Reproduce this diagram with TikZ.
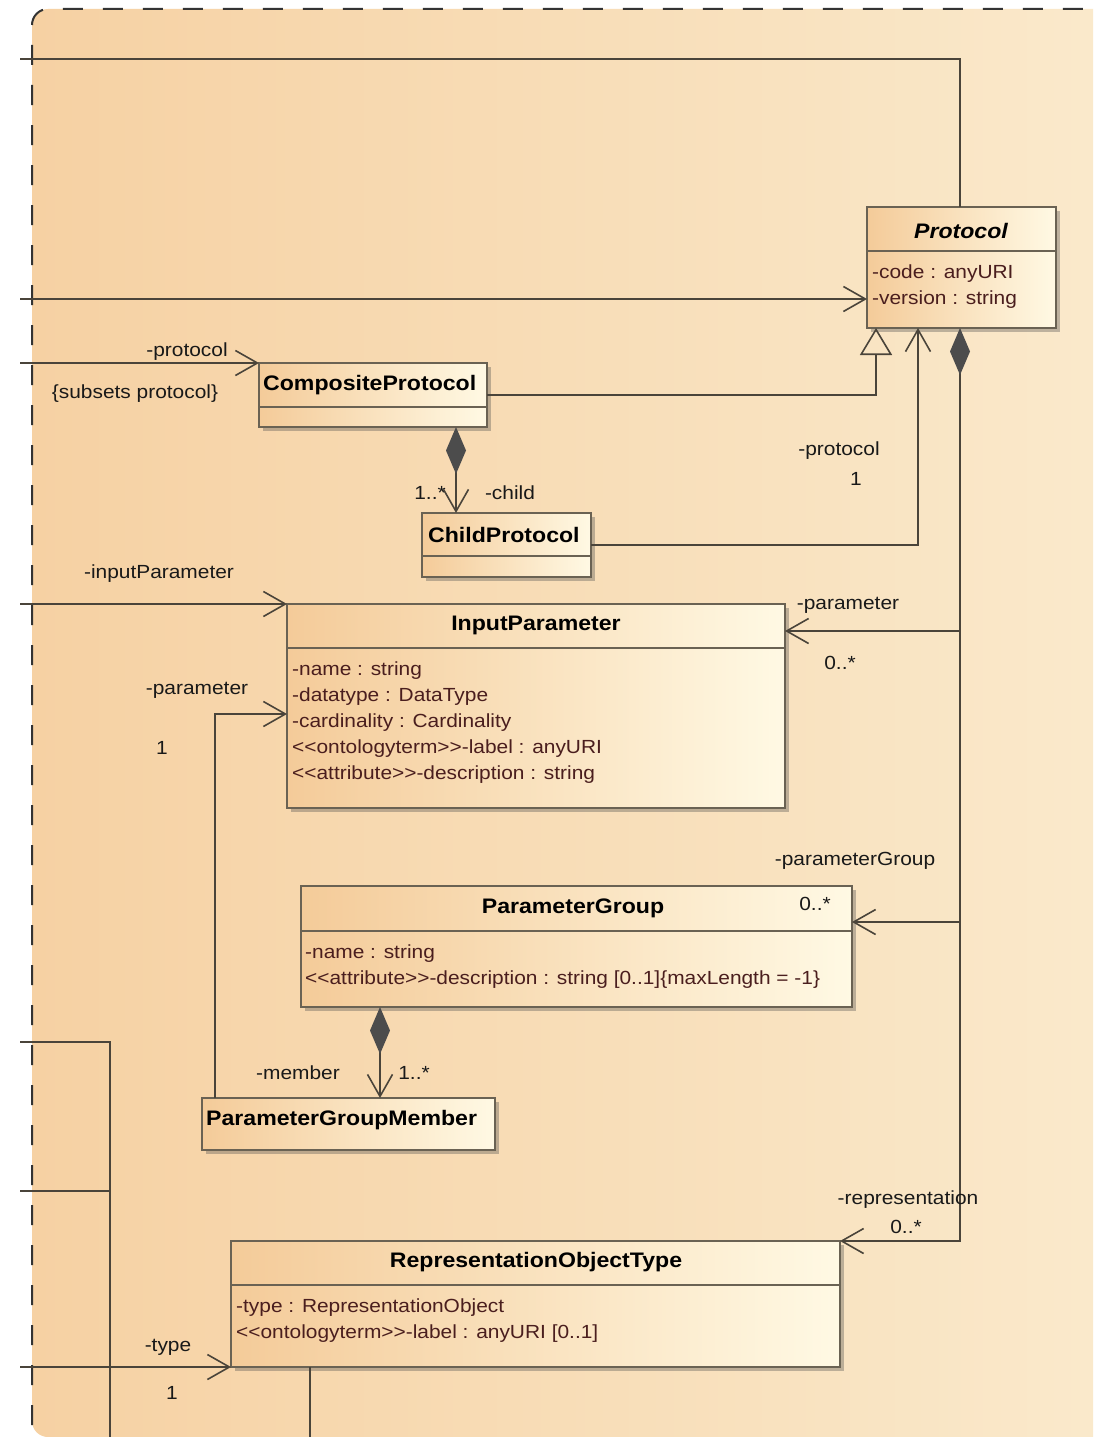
\documentclass[tikz,border=0pt]{standalone}
\usepackage{fontspec}
\newfontfamily\umlfont[FakeStretch=1.1]{Liberation Sans}
\usetikzlibrary{arrows.meta,shadows,calc}
\definecolor{bgL}{HTML}{F6D1A3}
\definecolor{bgR}{HTML}{FAE9CB}
\definecolor{clsL}{HTML}{F4CB99}
\definecolor{clsR}{HTML}{FFF9E4}
\definecolor{edgec}{HTML}{6A6253}
\definecolor{wirec}{HTML}{4A443A}
\definecolor{attrc}{HTML}{4A1E1E}
\definecolor{diac}{HTML}{4C4C4C}
\newcommand\umlopen{<\kern0pt<}
\newcommand\umlclose{>\kern0pt>}
\begin{document}
\begin{tikzpicture}[x=1pt,y=-1pt,
  cls/.style={draw=edgec, line width=1.8pt, left color=clsL, right color=clsR,
    anchor=north west, inner sep=0pt, outer sep=0pt,
    drop shadow={shadow xshift=4pt, shadow yshift=-4pt, opacity=0.35, fill=black!70}},
  div/.style={draw=edgec, line width=1.6pt},
  ttl/.style={font=\umlfont\fontsize{21}{24}\selectfont\bfseries, inner sep=0pt, text=black, yshift=-2.5pt},
  att/.style={font=\umlfont\fontsize{19}{22}\selectfont, inner sep=0pt, anchor=west, text=attrc, yshift=-2.5pt},
  lbl/.style={font=\umlfont\fontsize{19}{22}\selectfont, inner sep=0pt, text=black!90, yshift=-2.5pt},
  wirestyle/.style={draw=wirec, line width=1.6pt},
  barb/.tip={Straight Barb[length=22pt,width=25pt]},
  dmd/.tip={Diamond[length=47pt,width=20pt,color=diac,fill=diac]},
  tri/.tip={Triangle[open,length=27pt,width=32pt]}
]
\useasboundingbox (0,0) rectangle (1097,1437);
\fill[white] (0,0) rectangle (1097,1437);
\shade[left color=bgL, right color=bgR]
  (1093,1437) -- (1093,9) [rounded corners=16pt] -- (32,9) -- (32,1437) [sharp corners] -- cycle;
\draw[draw=black!80, line width=2pt, dash pattern=on 20pt off 20pt, rounded corners=16pt]
  (32,1425) -- (32,9) -- (1097,9);

% ---------- classes ----------
\node[cls, minimum width=189pt, minimum height=121pt] (protocol) at (867,207) {};
\draw[div] ($(protocol.north west)+(0,44)$) -- ($(protocol.north east)+(0,44)$);
\node[ttl] (protocolT) at (961,228) {\itshape Protocol};
\node[att] (protocolA1) at (872,271) {-code : anyURI};
\node[att] (protocolA2) at (872,297) {-version : string};

\node[cls, minimum width=228pt, minimum height=64pt] (composite) at (259,363) {};
\draw[div] ($(composite.north west)+(0,44)$) -- ($(composite.north east)+(0,44)$);
\node[ttl, anchor=west] (compositeT) at (263,383) {CompositeProtocol};

\node[cls, minimum width=169pt, minimum height=64pt] (child) at (422,513) {};
\draw[div] ($(child.north west)+(0,43)$) -- ($(child.north east)+(0,43)$);
\node[ttl, anchor=west] (childT) at (428,532) {ChildProtocol};

\node[cls, minimum width=498pt, minimum height=204pt] (input) at (287,604) {};
\draw[div] ($(input.north west)+(0,44)$) -- ($(input.north east)+(0,44)$);
\node[ttl] (inputT) at (536,623) {InputParameter};
\node[att] (inputA1) at (292,668) {-name : string};
\node[att] (inputA2) at (292,694) {-datatype : DataType};
\node[att] (inputA3) at (292,720) {-cardinality : Cardinality};
\node[att] (inputA4) at (292,746) {\umlopen ontologyterm\umlclose-label : anyURI};
\node[att] (inputA5) at (292,772) {\umlopen attribute\umlclose-description : string};

\node[cls, minimum width=551pt, minimum height=121pt] (pgroup) at (301,886) {};
\draw[div] ($(pgroup.north west)+(0,45)$) -- ($(pgroup.north east)+(0,45)$);
\node[ttl] (pgroupT) at (573,906) {ParameterGroup};
\node[att] (pgroupA1) at (305,951) {-name : string};
\node[att] (pgroupA2) at (305,977) {\umlopen attribute\umlclose-description : string [0..1]\{maxLength = -1\}};

\node[cls, minimum width=293pt, minimum height=52pt] (pgm) at (202,1098) {};
\node[ttl, anchor=west] (pgmT) at (206,1118) {ParameterGroupMember};

\node[cls, minimum width=609pt, minimum height=126pt] (rot) at (231,1241) {};
\draw[div] ($(rot.north west)+(0,44)$) -- ($(rot.north east)+(0,44)$);
\node[ttl] (rotT) at (536,1260) {RepresentationObjectType};
\node[att] (rotA1) at (236,1305) {-type : RepresentationObject};
\node[att] (rotA2) at (236,1331) {\umlopen ontologyterm\umlclose-label : anyURI [0..1]};

% ---------- free ends ----------
\coordinate (e1) at (20,59);
\coordinate (e2) at (20,299);
\coordinate (e3) at (20,363);
\coordinate (e4) at (20,604);
\coordinate (e5) at (20,1042);
\coordinate (e6) at (20,1191);
\coordinate (e7) at (20,1367);
\coordinate (k1) at (110,1191);
\coordinate (b1) at (110,1437);
\coordinate (b2) at (310,1437);
\coordinate (j1) at (960,631);
\coordinate (j2) at (960,922);
\coordinate (j3) at (960,1241);

% ---------- connectors ----------
\draw[wirestyle] ($(protocol.north west)+(93,0)$) |- (e1);
\draw[wirestyle, -barb] (e2) -- (protocol.west |- e2);
\draw[wirestyle, -barb] (e3) -- (composite.north west);
\draw[wirestyle, -tri] (composite.east) -| ($(protocol.south west)+(9,0)$);
\draw[wirestyle, -barb] (child.east) -| ($(protocol.south west)+(51,0)$);
\draw[wirestyle, dmd-barb] ($(protocol.south west)+(93,0)$) -- (j3) -- (rot.north east);
\draw[wirestyle, -barb] (j1) -- (input.east |- j1);
\draw[wirestyle, -barb] (j2) -- (pgroup.east |- j2);
\draw[wirestyle, dmd-barb] ($(composite.south west)+(197,0)$) -- ($(child.north west)+(34,0)$);
\draw[wirestyle, -barb] (e4) -- (input.north west);
\draw[wirestyle, -barb] ($(pgm.north west)+(13,0)$) |- ($(input.north west)+(0,110)$);
\draw[wirestyle, dmd-barb] ($(pgroup.south west)+(79,0)$) -- ($(pgm.north west)+(178,0)$);
\draw[wirestyle] (e5) -| (b1);
\draw[wirestyle] (e6) -- (k1);
\draw[wirestyle, -barb] (e7) -- (rot.south west);
\draw[wirestyle] ($(rot.south west)+(79,0)$) -- (b2);

% ---------- labels ----------
\node[lbl] (l1) at (187,349) {-protocol};
\node[lbl] (l2) at (135,391) {\{subsets protocol\}};
\node[lbl] (l3) at (839,448) {-protocol};
\node[lbl] (l4) at (856,476) {1};
\node[lbl] (l5) at (430,490) {1..*};
\node[lbl] (l6) at (510,490) {-child};
\node[lbl] (l7) at (159,571) {-inputParameter};
\node[lbl] (l8) at (848,603) {-parameter};
\node[lbl] (l9) at (840,660) {0..*};
\node[lbl] (l10) at (197,688) {-parameter};
\node[lbl] (l11) at (162,745) {1};
\node[lbl] (l12) at (855,858) {-parameterGroup};
\node[lbl] (l13) at (815,901) {0..*};
\node[lbl] (l14) at (298,1070) {-member};
\node[lbl] (l15) at (414,1070) {1..*};
\node[lbl] (l16) at (908,1197) {-representation};
\node[lbl] (l17) at (906,1224) {0..*};
\node[lbl] (l18) at (168,1345) {-type};
\node[lbl] (l19) at (172,1390) {1};
\end{tikzpicture}
\end{document}
